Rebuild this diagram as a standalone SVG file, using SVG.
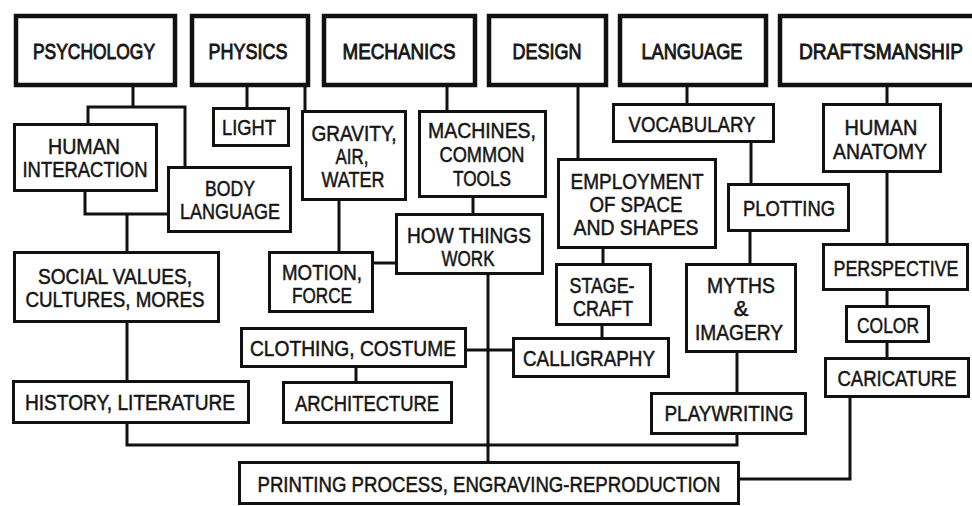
<svg xmlns="http://www.w3.org/2000/svg" width="972" height="506" viewBox="0 0 972 506">
<style>
rect{fill:#fff;stroke:#111;stroke-width:3}
rect.t{stroke-width:4.5}
text{font-family:"Liberation Sans",Arial,sans-serif;font-size:22px;fill:#151515;stroke:#151515;stroke-width:0.5;text-anchor:middle}
.t+text{stroke-width:0.9}
#connectors path{fill:none;stroke:#111;stroke-width:3}
</style>
<rect x="0" y="0" width="972" height="506" style="stroke:none;fill:#fff"/>
<g id="connectors">
<path d="M133,87V107M88,124V107H185V166"/>
<path d="M85,192V214H167M127,214V251"/>
<path d="M127,323V380"/>
<path d="M127,424V445H737V435"/>
<path d="M247,87V107M305,87V110"/>
<path d="M339,201V251"/>
<path d="M374,263H395"/>
<path d="M447,87V110"/>
<path d="M473,198V213"/>
<path d="M488,275V461"/>
<path d="M578,87V158"/>
<path d="M603,249V263"/>
<path d="M602,326V337"/>
<path d="M467,350H512"/>
<path d="M356,368V381"/>
<path d="M687,87V103"/>
<path d="M751,143V183"/>
<path d="M750,232V263"/>
<path d="M737,353V392"/>
<path d="M887,87V103M887,173V243M887,291V305M887,343V357"/>
<path d="M850,398V479H740"/>
</g>
<g id="psychology"><rect class="t" x="16" y="16" width="159" height="69"/><text x="94" y="59" textLength="122" lengthAdjust="spacingAndGlyphs">PSYCHOLOGY</text></g>
<g id="physics"><rect class="t" x="192" y="16" width="116" height="69"/><text x="248" y="59" textLength="79" lengthAdjust="spacingAndGlyphs">PHYSICS</text></g>
<g id="mechanics"><rect class="t" x="324" y="16" width="151" height="69"/><text x="399" y="59" textLength="113" lengthAdjust="spacingAndGlyphs">MECHANICS</text></g>
<g id="design"><rect class="t" x="489" y="16" width="117" height="69"/><text x="547" y="59" textLength="69" lengthAdjust="spacingAndGlyphs">DESIGN</text></g>
<g id="language"><rect class="t" x="620" y="16" width="146" height="69"/><text x="692" y="59" textLength="101" lengthAdjust="spacingAndGlyphs">LANGUAGE</text></g>
<g id="draftsmanship"><rect class="t" x="780" y="16" width="200" height="69"/><text x="881" y="59" textLength="164" lengthAdjust="spacingAndGlyphs">DRAFTSMANSHIP</text></g>
<g id="human-interaction"><rect x="14.5" y="124.5" width="142" height="66"/><text x="84" y="154" textLength="72" lengthAdjust="spacingAndGlyphs">HUMAN</text><text x="85" y="177" textLength="125" lengthAdjust="spacingAndGlyphs">INTERACTION</text></g>
<g id="body-language"><rect x="168.5" y="167.5" width="122" height="64"/><text x="230" y="196" textLength="50" lengthAdjust="spacingAndGlyphs">BODY</text><text x="230" y="219" textLength="100" lengthAdjust="spacingAndGlyphs">LANGUAGE</text></g>
<g id="social-values"><rect x="14.5" y="252.5" width="204" height="69"/><text x="115" y="284" textLength="154" lengthAdjust="spacingAndGlyphs">SOCIAL VALUES,</text><text x="115" y="307" textLength="179" lengthAdjust="spacingAndGlyphs">CULTURES, MORES</text></g>
<g id="history"><rect x="13.5" y="381.5" width="235" height="41"/><text x="130" y="410" textLength="210" lengthAdjust="spacingAndGlyphs">HISTORY, LITERATURE</text></g>
<g id="light"><rect x="213.5" y="108.5" width="75" height="37"/><text x="249" y="135" textLength="54" lengthAdjust="spacingAndGlyphs">LIGHT</text></g>
<g id="gravity"><rect x="302.5" y="111.5" width="103" height="88"/><text x="354" y="141" textLength="85" lengthAdjust="spacingAndGlyphs">GRAVITY,</text><text x="352" y="164" textLength="33" lengthAdjust="spacingAndGlyphs">AIR,</text><text x="353" y="187" textLength="63" lengthAdjust="spacingAndGlyphs">WATER</text></g>
<g id="motion"><rect x="269.5" y="252.5" width="103" height="59"/><text x="322" y="280" textLength="80" lengthAdjust="spacingAndGlyphs">MOTION,</text><text x="322" y="303" textLength="60" lengthAdjust="spacingAndGlyphs">FORCE</text></g>
<g id="machines"><rect x="419.5" y="111.5" width="126" height="85"/><text x="482" y="138" textLength="108" lengthAdjust="spacingAndGlyphs">MACHINES,</text><text x="482" y="162" textLength="85" lengthAdjust="spacingAndGlyphs">COMMON</text><text x="482" y="186" textLength="58" lengthAdjust="spacingAndGlyphs">TOOLS</text></g>
<g id="how-things-work"><rect x="396.5" y="214.5" width="146" height="59"/><text x="469" y="243" textLength="124" lengthAdjust="spacingAndGlyphs">HOW THINGS</text><text x="468" y="266" textLength="53" lengthAdjust="spacingAndGlyphs">WORK</text></g>
<g id="employment"><rect x="558.5" y="159.5" width="157" height="88"/><text x="637" y="189" textLength="133" lengthAdjust="spacingAndGlyphs">EMPLOYMENT</text><text x="636" y="212" textLength="93" lengthAdjust="spacingAndGlyphs">OF SPACE</text><text x="636" y="235" textLength="125" lengthAdjust="spacingAndGlyphs">AND SHAPES</text></g>
<g id="stagecraft"><rect x="556.5" y="264.5" width="94" height="60"/><text x="602" y="293" textLength="65" lengthAdjust="spacingAndGlyphs">STAGE-</text><text x="603" y="316" textLength="60" lengthAdjust="spacingAndGlyphs">CRAFT</text></g>
<g id="calligraphy"><rect x="513.5" y="338.5" width="155" height="38"/><text x="589" y="366" textLength="132" lengthAdjust="spacingAndGlyphs">CALLIGRAPHY</text></g>
<g id="clothing"><rect x="241.5" y="328.5" width="224" height="38"/><text x="353" y="356" textLength="206" lengthAdjust="spacingAndGlyphs">CLOTHING, COSTUME</text></g>
<g id="architecture"><rect x="283.5" y="382.5" width="168" height="40"/><text x="367" y="411" textLength="144" lengthAdjust="spacingAndGlyphs">ARCHITECTURE</text></g>
<g id="vocabulary"><rect x="613.5" y="104.5" width="160" height="37"/><text x="692" y="132" textLength="127" lengthAdjust="spacingAndGlyphs">VOCABULARY</text></g>
<g id="plotting"><rect x="728.5" y="184.5" width="120" height="46"/><text x="789" y="216" textLength="92" lengthAdjust="spacingAndGlyphs">PLOTTING</text></g>
<g id="myths"><rect x="686.5" y="264.5" width="109" height="87"/><text x="741" y="293" textLength="68" lengthAdjust="spacingAndGlyphs">MYTHS</text><text x="741" y="316">&amp;</text><text x="739" y="340" textLength="88" lengthAdjust="spacingAndGlyphs">IMAGERY</text></g>
<g id="playwriting"><rect x="651.5" y="393.5" width="154" height="40"/><text x="729" y="421" textLength="129" lengthAdjust="spacingAndGlyphs">PLAYWRITING</text></g>
<g id="human-anatomy"><rect x="823.5" y="104.5" width="117" height="67"/><text x="881" y="135" textLength="73" lengthAdjust="spacingAndGlyphs">HUMAN</text><text x="880" y="159" textLength="94" lengthAdjust="spacingAndGlyphs">ANATOMY</text></g>
<g id="perspective"><rect x="823.5" y="244.5" width="144" height="45"/><text x="896" y="276" textLength="125" lengthAdjust="spacingAndGlyphs">PERSPECTIVE</text></g>
<g id="color"><rect x="846.5" y="306.5" width="82" height="35"/><text x="888" y="333" textLength="62" lengthAdjust="spacingAndGlyphs">COLOR</text></g>
<g id="caricature"><rect x="825.5" y="358.5" width="143" height="38"/><text x="897" y="386" textLength="119" lengthAdjust="spacingAndGlyphs">CARICATURE</text></g>
<g id="printing"><rect x="239.5" y="462.5" width="499" height="41"/><text x="489" y="492" textLength="463" lengthAdjust="spacingAndGlyphs">PRINTING PROCESS, ENGRAVING-REPRODUCTION</text></g>
</svg>
